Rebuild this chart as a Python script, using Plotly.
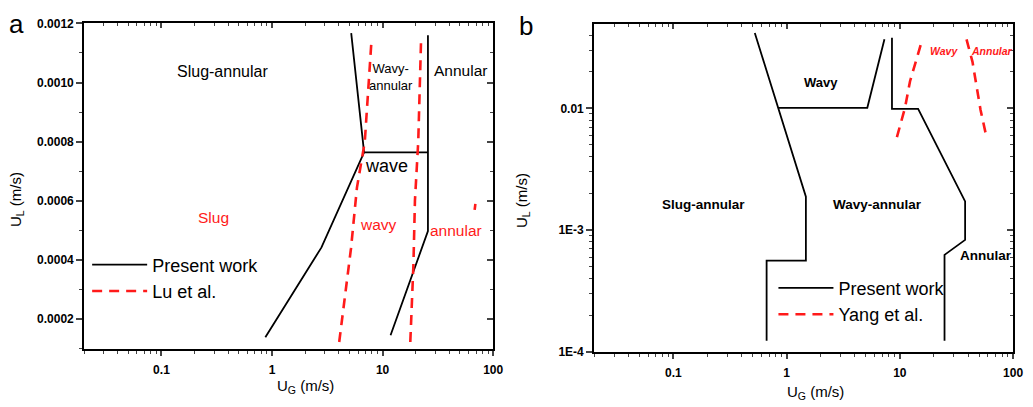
import math
import plotly.graph_objects as go

# ---------------- Panel a (linear U_L) ----------------
a_pw_left_x = [0.87, 2.8, 6.8, 5.2]
a_pw_left_y = [0.000139, 0.000443, 0.000764, 0.001167]
a_pw_wave_x = [6.8, 25.7]
a_pw_wave_y = [0.000764, 0.000764]
a_pw_right_x = [25.7, 25.7, 11.8]
a_pw_right_y = [0.00116, 0.000498, 0.000146]

a_lu_left_x = [4.05, 4.58, 5.18, 5.86, 6.9, 7.96]
a_lu_left_y = [0.000123, 0.000276, 0.00044, 0.000645, 0.0008, 0.00115]
a_lu_right_x = [17.8, 19.0, 19.6, 21.0, 22.3]
a_lu_right_y = [0.000123, 0.000384, 0.0006, 0.0008, 0.00115]
a_lu_dot_x = [68.0, 69.0]
a_lu_dot_y = [0.000570, 0.000590]

# ---------------- Panel b (log U_L) ----------------
b_pw_left_x = [0.524, 1.48, 1.48, 0.666, 0.666]
b_pw_left_y = [0.0416, 0.00188, 0.000561, 0.000561, 0.000123]
b_pw_wavy_x = [0.85, 5.16, 7.31]
b_pw_wavy_y = [0.0101, 0.0101, 0.0369]
b_pw_right_x = [8.52, 8.52, 14.5, 37.7, 37.7, 24.8, 24.8]
b_pw_right_y = [0.038, 0.0099, 0.0099, 0.00172, 0.00083, 0.000625, 0.000123]

b_yang_left_x = [9.42, 11.1, 12.3, 15.8]
b_yang_left_y = [0.0058, 0.0101, 0.0167, 0.0369]
b_yang_right_x = [38.8, 43.8, 51.6, 58.2]
b_yang_right_y = [0.0369, 0.0241, 0.0097, 0.0058]

x_ticks = [0.1, 1, 10, 100]
x_tick_text = ["0.1", "1", "10", "100"]
a_y_ticks = [0.0002, 0.0004, 0.0006, 0.0008, 0.0010, 0.0012]
a_y_tick_text = ["0.0002", "0.0004", "0.0006", "0.0008", "0.0010", "0.0012"]
b_y_ticks = [1e-4, 1e-3, 1e-2]
b_y_tick_text = ["1E-4", "1E-3", "0.01"]


def join(*segs):
    xs, ys = [], []
    for i, (sx, sy) in enumerate(segs):
        if i:
            xs.append(None)
            ys.append(None)
        xs += list(sx)
        ys += list(sy)
    return xs, ys


FONT = "Arial, Liberation Sans, sans-serif"
RED = "#ff1a1a"
BLACK_LINE = dict(color="black", width=1.8)
RED_LINE = dict(color=RED, width=2.6, dash="10px,7px")

fig = go.Figure()

xa, ya = join((a_pw_left_x, a_pw_left_y), (a_pw_wave_x, a_pw_wave_y),
              (a_pw_right_x, a_pw_right_y))
fig.add_trace(go.Scatter(x=xa, y=ya, mode="lines", line=BLACK_LINE,
                         name="Present work", xaxis="x", yaxis="y",
                         legend="legend", connectgaps=False))
xa, ya = join((a_lu_left_x, a_lu_left_y), (a_lu_right_x, a_lu_right_y),
              (a_lu_dot_x, a_lu_dot_y))
fig.add_trace(go.Scatter(x=xa, y=ya, mode="lines", line=RED_LINE,
                         name="Lu et al.", xaxis="x", yaxis="y",
                         legend="legend", connectgaps=False))

xb, yb = join((b_pw_left_x, b_pw_left_y), (b_pw_wavy_x, b_pw_wavy_y),
              (b_pw_right_x, b_pw_right_y))
fig.add_trace(go.Scatter(x=xb, y=yb, mode="lines", line=BLACK_LINE,
                         name="Present work", xaxis="x2", yaxis="y2",
                         legend="legend2", connectgaps=False))
xb, yb = join((b_yang_left_x, b_yang_left_y), (b_yang_right_x, b_yang_right_y))
fig.add_trace(go.Scatter(x=xb, y=yb, mode="lines", line=RED_LINE,
                         name="Yang et al.", xaxis="x2", yaxis="y2",
                         legend="legend2", connectgaps=False))

# invisible anchors so the mirrored frame axes (top / right) get drawn
fig.add_trace(go.Scatter(x=[1], y=[0.0005], xaxis="x3", yaxis="y3",
                         mode="markers", marker=dict(opacity=0),
                         showlegend=False, hoverinfo="skip"))
fig.add_trace(go.Scatter(x=[1], y=[0.001], xaxis="x4", yaxis="y4",
                         mode="markers", marker=dict(opacity=0),
                         showlegend=False, hoverinfo="skip"))

W, H = 1033, 407
ax_dom = [85 / W, 498 / W]
ay_dom = [(H - 354) / H, (H - 17) / H]
bx_dom = [600 / W, 1023 / W]
by_dom = [(H - 357) / H, (H - 18) / H]

XRANGE = [-1.699, 2.0]
tickfont = dict(family=FONT, size=12, color="black", weight="bold")

log_minor = [m * 10 ** e for e in range(-2, 2) for m in range(2, 10)]
log_minor_y = [m * 10 ** e for e in range(-4, -1) for m in range(2, 10)]

FRAME = dict(showline=True, linewidth=2, linecolor="black", showgrid=False,
             zeroline=False)


def xaxis_main(domain, anchor):
    return dict(type="log", range=XRANGE, domain=domain, anchor=anchor,
                tickvals=x_ticks, ticktext=x_tick_text, ticks="outside",
                ticklen=5, tickwidth=1.5, tickfont=tickfont,
                ticklabelstandoff=4,
                minor=dict(tickvals=log_minor, ticks="outside", ticklen=3,
                           tickwidth=1.2, showgrid=False), **FRAME)


def xaxis_top(over, anchor):
    return dict(type="log", range=XRANGE, overlaying=over, anchor=anchor,
                side="top", tickvals=x_ticks, ticks="inside", ticklen=5,
                tickwidth=1.5, showticklabels=False,
                minor=dict(tickvals=log_minor, ticks="inside", ticklen=3,
                           tickwidth=1.2, showgrid=False), **FRAME)


layout = dict(
    width=W, height=H,
    margin=dict(l=0, r=0, t=0, b=0),
    paper_bgcolor="white", plot_bgcolor="white",
    font=dict(family=FONT, color="black"),
    xaxis=xaxis_main(ax_dom, "y"),
    xaxis2=xaxis_main(bx_dom, "y2"),
    xaxis3=xaxis_top("x", "y3"),
    xaxis4=xaxis_top("x2", "y4"),
    yaxis=dict(range=[0.0001, 0.0012], domain=ay_dom, anchor="x",
               tickvals=a_y_ticks, ticktext=a_y_tick_text, ticks="outside",
               ticklen=6, tickwidth=1.5, tickfont=tickfont,
               minor=dict(dtick=0.0001, tick0=0, ticks="outside", ticklen=3,
                          tickwidth=1.2, showgrid=False), **FRAME),
    yaxis3=dict(range=[0.0001, 0.0012], overlaying="y", anchor="x3",
                side="right", tickvals=a_y_ticks, ticks="inside", ticklen=6,
                tickwidth=1.5, showticklabels=False,
                minor=dict(dtick=0.0001, tick0=0, ticks="inside", ticklen=3,
                           tickwidth=1.2, showgrid=False), **FRAME),
    yaxis2=dict(type="log", range=[-4, -1.31], domain=by_dom, anchor="x2",
                tickvals=b_y_ticks, ticktext=b_y_tick_text, ticks="outside",
                ticklen=6, tickwidth=1.5, tickfont=tickfont,
                minor=dict(tickvals=log_minor_y, ticks="outside", ticklen=3,
                           tickwidth=1.2, showgrid=False), **FRAME),
    yaxis4=dict(type="log", range=[-4, -1.31], overlaying="y2", anchor="x4",
                side="right", tickvals=b_y_ticks, ticks="inside", ticklen=6,
                tickwidth=1.5, showticklabels=False,
                minor=dict(tickvals=log_minor_y, ticks="inside", ticklen=3,
                           tickwidth=1.2, showgrid=False), **FRAME),
    legend=dict(x=88 / W, y=1 - 248 / H, xanchor="left", yanchor="top",
                bgcolor="rgba(0,0,0,0)", itemwidth=55,
                font=dict(family=FONT, size=18, color="black"),
                tracegroupgap=0),
    legend2=dict(x=781 / W, y=1 - 272 / H, xanchor="left", yanchor="top",
                 bgcolor="rgba(0,0,0,0)", itemwidth=55,
                 font=dict(family=FONT, size=18, color="black"),
                 tracegroupgap=0),
    showlegend=True,
)
fig.update_layout(**layout)

ann = []
L = math.log10


def label(text, x, y, xref, yref, size=13, color="black", bold=False,
          italic=False):
    f = dict(family=FONT, size=size, color=color)
    if bold:
        f["weight"] = "bold"
    if italic:
        f["style"] = "italic"
    ann.append(dict(text=text, x=x, y=y, xref=xref, yref=yref,
                    xanchor="center", yanchor="middle",
                    showarrow=False, font=f))


# panel a region labels (log x axis -> annotation x in log10 units)
label("Slug-annular", L(0.358), 0.001037, "x", "y", size=16)
label("Wavy-<br>annular", L(12.0), 0.00102, "x", "y", size=13)
label("Annular", L(51), 0.00104, "x", "y", size=15.5)
label("wave", L(10.9), 0.000717, "x", "y", size=18)
label("Slug", L(0.297), 0.000544, "x", "y", size=15.5, color=RED)
label("wavy", L(9.2), 0.00052, "x", "y", size=15.5, color=RED)
label("annular", L(46), 0.0005, "x", "y", size=15.5, color=RED)

# panel b region labels (both axes log)
label("Wavy", L(2.03), L(0.01626), "x2", "y2", size=13, bold=True)
label("Wavy", L(24.5), L(0.0298), "x2", "y2", size=10.5, color=RED,
      bold=True, italic=True)
label("Annular", L(65.3), L(0.0298), "x2", "y2", size=10.5, color=RED,
      bold=True, italic=True)
label("Slug-annular", L(0.183), L(0.00162), "x2", "y2", size=13.5, bold=True)
label("Wavy-annular", L(6.3), L(0.00162), "x2", "y2", size=13.5, bold=True)
label("Annular", L(57.1), L(0.000614), "x2", "y2", size=13.5, bold=True)


def paper_text(text, x, y, size, angle=0):
    ann.append(dict(text=text, x=x / W, y=1 - y / H, xref="paper",
                    yref="paper", xanchor="center", yanchor="middle",
                    showarrow=False, textangle=angle,
                    font=dict(family=FONT, size=size, color="black")))


# axis titles
paper_text("U<sub>L</sub> (m/s)", 16, 199, 15, -90)
paper_text("U<sub>G</sub> (m/s)", 308, 393, 15)
paper_text("U<sub>L</sub> (m/s)", 527, 200, 15, -90)
paper_text("U<sub>G</sub> (m/s)", 823, 399, 15)

# panel letters
paper_text("a", 17, 18, 26)
paper_text("b", 531, 20, 26)

fig.update_layout(annotations=ann)
fig.write_html("out.html")
